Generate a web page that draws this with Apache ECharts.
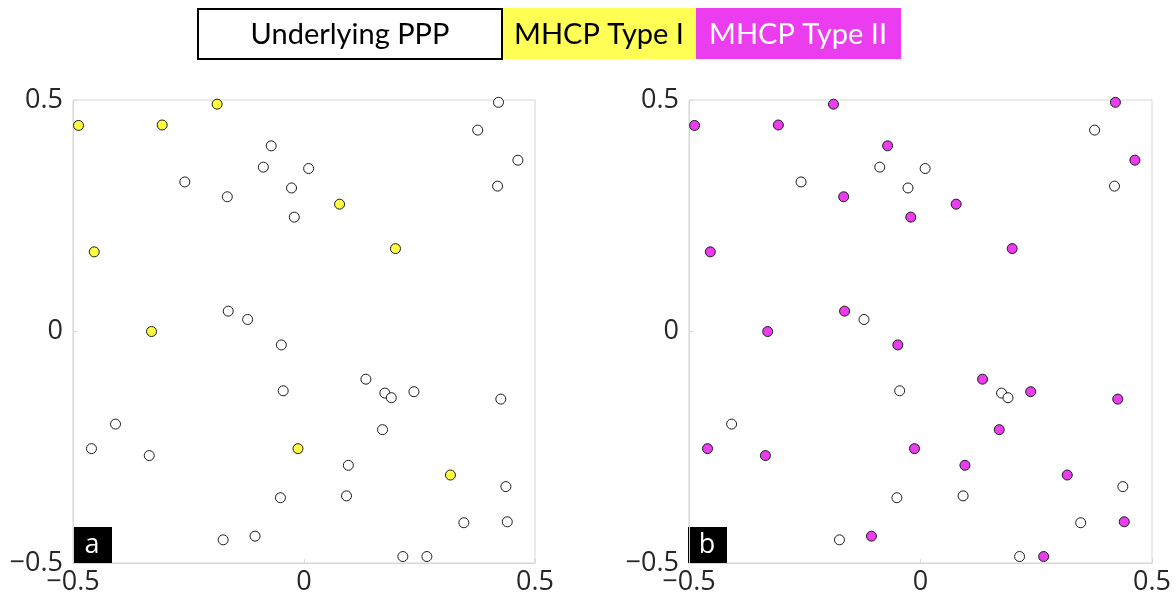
<!DOCTYPE html>
<html>
<head>
<meta charset="utf-8">
<script src="https://cdn.jsdelivr.net/npm/echarts@6/dist/echarts.min.js"></script>
<style>
html,body{margin:0;padding:0;background:#fff;}
#chart{width:1176px;height:600px;}
</style>
</head>
<body>
<div id="chart"></div>
<script>
// Points retained in MHCP Type I (and therefore also in Type II)
const typeIPoints = [
  [-0.488, 0.445], [-0.307, 0.446], [-0.188, 0.491], [-0.454, 0.172],
  [-0.330, 0.000], [0.077, 0.275], [0.198, 0.179], [-0.013, -0.253],
  [0.317, -0.310]
];
// Points retained only in MHCP Type II
const typeIIOnlyPoints = [
  [-0.071, 0.401], [-0.166, 0.291], [-0.021, 0.247], [-0.164, 0.044],
  [0.421, 0.495], [0.463, 0.370], [-0.049, -0.029], [-0.460, -0.253],
  [-0.335, -0.268], [-0.106, -0.442], [0.134, -0.103], [0.238, -0.130],
  [0.426, -0.146], [0.170, -0.212], [0.096, -0.289], [0.440, -0.411],
  [0.266, -0.486]
];
// Remaining points of the underlying PPP
const otherPoints = [
  [-0.088, 0.355], [-0.258, 0.323], [-0.027, 0.310], [0.010, 0.352],
  [-0.122, 0.026], [0.376, 0.435], [0.419, 0.314], [-0.045, -0.128],
  [-0.408, -0.200], [-0.051, -0.359], [-0.175, -0.450], [0.175, -0.133],
  [0.189, -0.143], [0.437, -0.335], [0.092, -0.355], [0.346, -0.413],
  [0.214, -0.486]
];
const axisTicks = [-0.5, 0, 0.5];
const legendLabels = ['Underlying PPP', 'MHCP Type I', 'MHCP Type II'];
const panelLabels = ['a', 'b'];

const typeIIPoints = typeIPoints.concat(typeIIOnlyPoints);

const chart = echarts.init(document.getElementById('chart'));
const axisColor = '#d6d6d6';
const textColor = '#262626';
const fmt = v => String(v).replace('-', '\u2212');

function xAx(i) {
  return {
    type: 'value', gridIndex: i, min: axisTicks[0], max: axisTicks[axisTicks.length - 1], interval: 0.5,
    axisLine: { show: true, onZero: false, lineStyle: { color: axisColor } },
    axisTick: { show: true, inside: true, length: 4, lineStyle: { color: axisColor } },
    splitLine: { show: false },
    axisLabel: { fontSize: 27, color: textColor, fontFamily: 'Open Sans', margin: 6, formatter: fmt, showMinLabel: true, showMaxLabel: true }
  };
}
function yAx(i) {
  return {
    type: 'value', gridIndex: i, min: axisTicks[0], max: axisTicks[axisTicks.length - 1], interval: 0.5,
    axisLine: { show: true, onZero: false, lineStyle: { color: axisColor } },
    axisTick: { show: true, inside: true, length: 4, lineStyle: { color: axisColor } },
    splitLine: { show: false },
    axisLabel: { fontSize: 27, color: textColor, fontFamily: 'Open Sans', margin: 10, formatter: fmt, showMinLabel: true, showMaxLabel: true }
  };
}
function sc(i, data, color) {
  return {
    type: 'scatter', xAxisIndex: i, yAxisIndex: i, data: data,
    symbol: 'circle', symbolSize: 10,
    itemStyle: { color: color, borderColor: '#1a1a1a', borderWidth: 1, opacity: 1 },
    emphasis: { disabled: true }, animation: false
  };
}

const gridBox = { show: true, borderColor: axisColor, borderWidth: 1, backgroundColor: 'transparent' };

chart.setOption({
  animation: false,
  grid: [
    Object.assign({ left: 73, top: 100, width: 462, height: 463 }, gridBox),
    Object.assign({ left: 689, top: 100, width: 463, height: 463 }, gridBox)
  ],
  xAxis: [xAx(0), xAx(1)],
  yAxis: [yAx(0), yAx(1)],
  series: [
    sc(0, otherPoints, '#ffffff'),
    sc(0, typeIIOnlyPoints, '#ffffff'),
    sc(0, typeIPoints, '#ffff40'),
    sc(1, otherPoints, '#ffffff'),
    sc(1, typeIIPoints, '#ec3cf0')
  ],
  graphic: [
    { type: 'rect', shape: { x: 198, y: 9, width: 304, height: 50 }, style: { fill: '#ffffff', stroke: '#000', lineWidth: 2 } },
    { type: 'rect', shape: { x: 503, y: 8, width: 193, height: 51 }, style: { fill: '#ffff55' } },
    { type: 'rect', shape: { x: 696, y: 8, width: 205, height: 51 }, style: { fill: '#ec3cf0' } },
    { type: 'text', x: 350, y: 35, style: { text: legendLabels[0], fill: '#000', font: '29px Lato', align: 'center', verticalAlign: 'middle' } },
    { type: 'text', x: 599, y: 35, style: { text: legendLabels[1], fill: '#000', font: '29px Lato', align: 'center', verticalAlign: 'middle' } },
    { type: 'text', x: 798, y: 35, style: { text: legendLabels[2], fill: '#fff', font: '29px Lato', align: 'center', verticalAlign: 'middle' } },
    { type: 'rect', shape: { x: 73, y: 527, width: 39, height: 36 }, style: { fill: '#000' } },
    { type: 'text', x: 92, y: 545, style: { text: panelLabels[0], fill: '#fff', font: '27px "Open Sans"', align: 'center', verticalAlign: 'middle' } },
    { type: 'rect', shape: { x: 688, y: 527, width: 39, height: 36 }, style: { fill: '#000' } },
    { type: 'text', x: 707, y: 545, style: { text: panelLabels[1], fill: '#fff', font: '27px "Open Sans"', align: 'center', verticalAlign: 'middle' } }
  ]
});
</script>
</body>
</html>
